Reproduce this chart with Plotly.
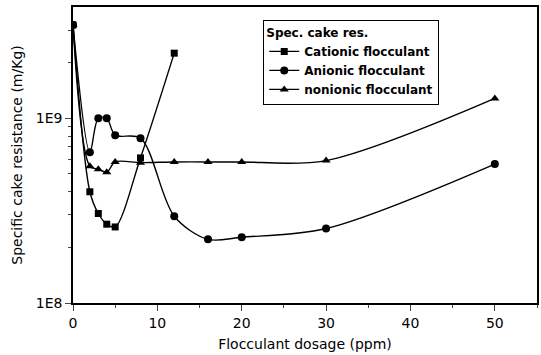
import plotly.graph_objects as go

# Data
dosage_cationic = [0, 2, 3, 4, 5, 8, 12]
cationic = [3.2e9, 4.0e8, 3.05e8, 2.67e8, 2.58e8, 6.1e8, 2.25e9]

dosage_anionic = [0, 2, 3, 4, 5, 8, 12, 16, 20, 30, 50]
anionic = [3.2e9, 6.55e8, 1.0e9, 1.0e9, 8.1e8, 7.8e8, 2.95e8, 2.21e8, 2.27e8, 2.53e8, 5.65e8]

dosage_nonionic = [0, 2, 3, 4, 5, 8, 12, 16, 20, 30, 50]
nonionic = [3.2e9, 5.5e8, 5.3e8, 5.1e8, 5.8e8, 5.75e8, 5.8e8, 5.8e8, 5.8e8, 5.9e8, 1.28e9]

series_names = ["Cationic flocculant", "Anionic flocculant", "nonionic flocculant"]
legend_title = "Spec. cake res."
x_ticks = [0, 10, 20, 30, 40, 50]
y_ticks = [1e8, 1e9]
y_tick_labels = ["1E8", "1E9"]
y_minor = [2e8, 3e8, 4e8, 5e8, 6e8, 7e8, 8e8, 9e8, 2e9, 3e9]

FONT = "DejaVu Sans"

fig = go.Figure()
series = [
    (dosage_cationic, cationic, series_names[0], "square", 7),
    (dosage_anionic, anionic, series_names[1], "circle", 8),
    (dosage_nonionic, nonionic, series_names[2], "triangle-up", 8),
]
for xs, ys, name, sym, size in series:
    fig.add_trace(go.Scatter(
        x=xs, y=ys, name=name, mode="lines+markers",
        line=dict(color="black", width=1.4, shape="spline", smoothing=0.9),
        marker=dict(symbol=sym, size=size, color="black"),
    ))

fig.update_layout(
    width=541, height=355,
    margin=dict(l=73, r=4, t=7, b=52, autoexpand=False),
    paper_bgcolor="white", plot_bgcolor="white",
    font=dict(family=FONT, color="black", size=14),
    legend=dict(
        x=0.41, y=0.955, xanchor="left", yanchor="top",
        bgcolor="white", bordercolor="black", borderwidth=1,
        font=dict(family=FONT, size=12, weight="bold"),
        title=dict(text=legend_title, font=dict(family=FONT, size=12, weight="bold")),
        tracegroupgap=0, itemwidth=30,
    ),
)
fig.update_xaxes(
    range=[0, 55], tickvals=x_ticks, ticks="outside", ticklen=6, tickwidth=1.2,
    minor=dict(dtick=5, tick0=0, ticks="outside", ticklen=3, tickwidth=1),
    showline=True, linecolor="black", linewidth=1.5, mirror=True,
    showgrid=False, zeroline=False, automargin=False,
    title=dict(text="Flocculant dosage (ppm)", font=dict(size=14), standoff=10),
    tickfont=dict(size=14),
)
fig.update_yaxes(
    type="log", range=[8, 9.602],
    tickvals=y_ticks, ticktext=y_tick_labels, ticks="outside", ticklen=6, tickwidth=1.2,
    minor=dict(tickvals=y_minor, ticks="outside", ticklen=3, tickwidth=1),
    showline=True, linecolor="black", linewidth=1.5, mirror=True,
    showgrid=False, zeroline=False, automargin=False,
    title=dict(text="Specific cake resistance (m/Kg)", font=dict(size=14), standoff=10),
    tickfont=dict(size=14),
)

fig.write_html(
    "out.html",
    config={"displayModeBar": False},
    post_script="document.body.style.margin='0';document.body.style.overflow='hidden';",
)
